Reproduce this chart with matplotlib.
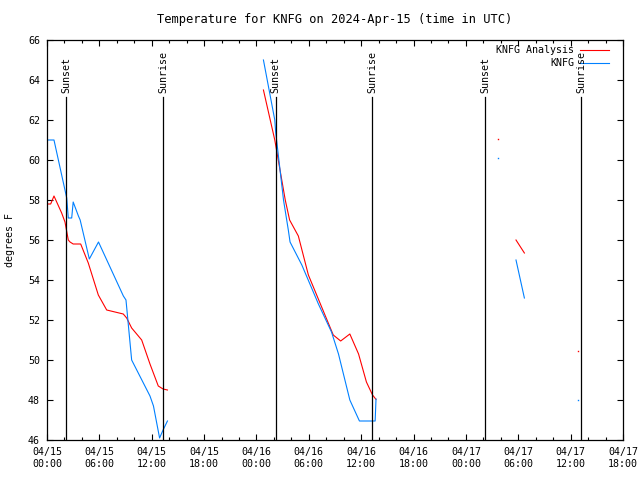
import numpy as np
import matplotlib
matplotlib.use('Agg')
import matplotlib.pyplot as plt
from matplotlib.ticker import MultipleLocator

plt.rcParams['font.family'] = 'DejaVu Sans Mono'
plt.rcParams['font.size'] = 7.2

# hours since 2024-04-15 00:00 UTC, NaN = gap in the record
obs_hours = [0.0, 0.05, 0.8, 2.26, 2.44, 2.83, 3.0, 3.6, 3.8, 4.85, 5.9, 8.75, 9.05, 9.7,
             11.8, 12.2, 12.9, 13.3, 13.8, np.nan,
             24.8, 26.1, 26.2, 27.1, 27.65, 27.85, 29.2, 31.1, 32.6, 33.4, 34.7, 35.8,
             37.6, 37.7, np.nan,
             53.74, 54.7]
obs_temp = [62.05, 61.0, 61.0, 58.1, 57.1, 57.1, 57.9, 57.2, 57.0, 55.05, 55.9, 53.2, 53.0, 50.0,
            48.2, 47.7, 46.1, 46.5, 46.95, np.nan,
            65.0, 62.0, 61.4, 58.0, 56.5, 55.9, 54.75, 52.8, 51.4, 50.3, 48.0, 46.95,
            46.95, 48.05, np.nan,
            55.0, 53.1]

ana_hours = [0.0, 0.42, 0.8, 1.68, 2.06, 2.44, 2.64, 3.0, 3.86, 4.73, 5.88, 6.84, 8.74, 9.13,
             9.7, 10.85, 11.8, 12.75, 13.3, 13.8, np.nan,
             24.8, 26.1, 27.3, 27.8, 28.8, 29.95, 32.8, 33.65, 34.7, 35.7, 36.6, 37.3, 37.7,
             np.nan,
             53.74, 54.7]
ana_temp = [57.8, 57.8, 58.2, 57.35, 56.9, 56.0, 55.9, 55.8, 55.8, 54.85, 53.25, 52.5, 52.3, 52.1,
            51.6, 51.0, 49.8, 48.7, 48.55, 48.5, np.nan,
            63.5, 61.0, 58.0, 57.0, 56.2, 54.25, 51.25, 50.95, 51.3, 50.3, 48.9, 48.25, 48.03,
            np.nan,
            56.0, 55.35]

# single isolated values
obs_pt_hours = [51.7, 60.8]
obs_pt_temp = [60.1, 48.0]
ana_pt_hours = [51.7, 60.8]
ana_pt_temp = [61.05, 50.45]

sun_hours = [2.2, 13.3, 26.2, 37.25, 50.2, 61.2]
sun_names = ['Sunset', 'Sunrise', 'Sunset', 'Sunrise', 'Sunset', 'Sunrise']

tick_hours = list(range(0, 67, 6))
tick_labels = ['04/15\n00:00', '04/15\n06:00', '04/15\n12:00', '04/15\n18:00',
               '04/16\n00:00', '04/16\n06:00', '04/16\n12:00', '04/16\n18:00',
               '04/17\n00:00', '04/17\n06:00', '04/17\n12:00', '04/17\n18:00']

series_names = ['KNFG Analysis', 'KNFG']
red = '#ff0000'
blue = '#0080ff'

fig = plt.figure(figsize=(6.4, 4.8), dpi=100)
ax = fig.add_axes([47 / 640, 1 - 440 / 480, 576 / 640, 400 / 480])

ax.plot(ana_hours, ana_temp, color=red, lw=0.8)
ax.plot(obs_hours, obs_temp, color=blue, lw=0.8)
ax.plot(ana_pt_hours, ana_pt_temp, ls='none', marker='s', ms=1.0, mew=0, color=red)
ax.plot(obs_pt_hours, obs_pt_temp, ls='none', marker='s', ms=1.0, mew=0, color=blue)

for h, name in zip(sun_hours, sun_names):
    ax.axvline(h, ymin=0, ymax=0.857, color='black', lw=0.9)
    ax.text(h, 0.868, name, rotation=90, ha='center', va='bottom',
            transform=ax.get_xaxis_transform())

# gnuplot style key: right aligned labels, sample line on the right
for i, (name, c) in enumerate(zip(series_names, [red, blue])):
    yk = 0.975 - i * 0.0325
    ax.text(0.915, yk, name, ha='right', va='center', transform=ax.transAxes)
    ax.plot([0.925, 0.976], [yk, yk], color=c, lw=0.8, transform=ax.transAxes,
            clip_on=False)

ax.set_xlim(0, 66)
ax.set_ylim(46, 66)
ax.set_xticks(tick_hours)
ax.set_xticklabels(tick_labels, linespacing=1.3)
ax.xaxis.set_minor_locator(MultipleLocator(2))
ax.set_yticks(np.arange(46, 67, 2))
ax.tick_params(which='both', direction='in', top=True, right=True, width=0.8)
ax.tick_params(which='major', length=4.5, pad=5)
ax.tick_params(which='minor', length=2.5)
for s in ax.spines.values():
    s.set_linewidth(0.9)

ax.set_title('Temperature for KNFG on 2024-Apr-15 (time in UTC)', pad=12)
fig.text(10 / 640, 0.5, 'degrees F', rotation=90, ha='center', va='center')

fig.savefig('out.png', dpi=100)
